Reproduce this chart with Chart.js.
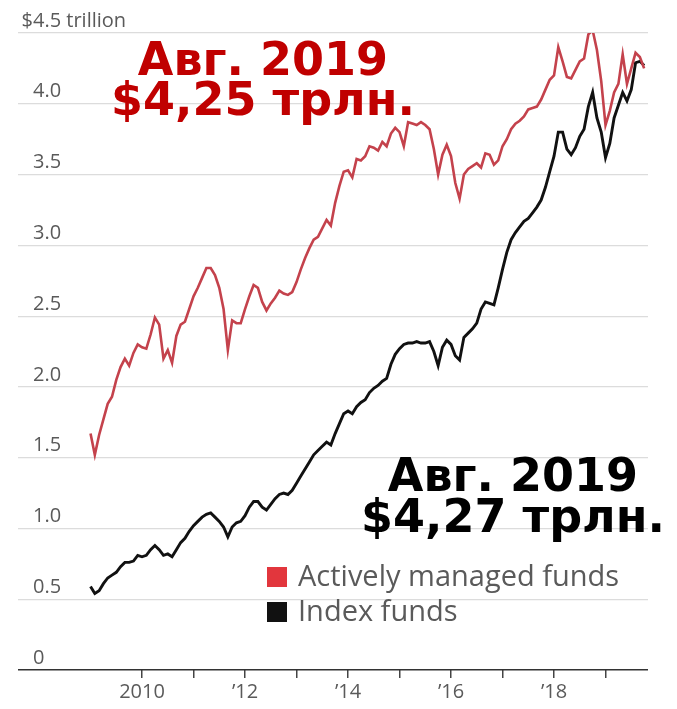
<!DOCTYPE html>
<html>
<head>
<meta charset="utf-8">
<script src="https://cdn.jsdelivr.net/npm/chart.js@4.4.0/dist/chart.umd.min.js"></script>
<style>
html,body{margin:0;padding:0;background:#fff;}
canvas{display:block;}
</style>
</head>
<body>
<canvas id="c" width="677" height="709"></canvas>
<script>
// ---- data (monthly, first point = Jan 2009) ----
const firstMonth = '2009-01';
const activeValues = [
  1.67,1.52,1.66,1.77,1.88,1.93,2.05,2.14,2.20,2.15,2.24,2.30,
  2.28,2.27,2.37,2.49,2.44,2.20,2.26,2.17,2.36,2.44,2.46,2.55,
  2.64,2.70,2.77,2.84,2.84,2.79,2.70,2.55,2.26,2.47,2.45,2.45,
  2.55,2.64,2.72,2.70,2.60,2.54,2.59,2.63,2.68,2.66,2.65,2.67,
  2.74,2.83,2.91,2.98,3.04,3.06,3.12,3.18,3.14,3.30,3.42,3.52,
  3.53,3.48,3.61,3.60,3.63,3.70,3.69,3.67,3.73,3.70,3.79,3.83,
  3.80,3.70,3.87,3.86,3.85,3.87,3.85,3.82,3.68,3.50,3.64,3.71,
  3.63,3.44,3.33,3.50,3.54,3.56,3.58,3.55,3.65,3.64,3.57,3.60,
  3.70,3.75,3.82,3.86,3.88,3.91,3.96,3.97,3.98,4.03,4.10,4.17,
  4.20,4.40,4.30,4.19,4.18,4.24,4.30,4.32,4.49,4.52,4.38,4.16,
  3.85,3.95,4.08,4.14,4.35,4.14,4.25,4.36,4.33,4.25
];
const indexValues = [
  0.59,0.54,0.56,0.61,0.65,0.67,0.69,0.73,0.76,0.76,0.77,0.81,
  0.80,0.81,0.85,0.88,0.85,0.81,0.82,0.80,0.85,0.90,0.93,0.98,
  1.02,1.05,1.08,1.10,1.11,1.08,1.05,1.01,0.94,1.01,1.04,1.05,
  1.09,1.15,1.19,1.19,1.15,1.13,1.17,1.21,1.24,1.25,1.24,1.27,
  1.32,1.37,1.42,1.47,1.52,1.55,1.58,1.61,1.59,1.67,1.74,1.81,
  1.83,1.81,1.86,1.89,1.91,1.96,1.99,2.01,2.04,2.06,2.16,2.23,
  2.27,2.30,2.31,2.31,2.32,2.31,2.31,2.32,2.25,2.15,2.28,2.33,
  2.30,2.22,2.19,2.35,2.38,2.41,2.45,2.55,2.60,2.59,2.58,2.70,
  2.83,2.95,3.04,3.09,3.13,3.17,3.19,3.23,3.27,3.32,3.41,3.52,
  3.63,3.80,3.80,3.68,3.64,3.69,3.77,3.82,3.98,4.08,3.90,3.80,
  3.62,3.72,3.90,3.99,4.08,4.02,4.10,4.29,4.30,4.27
];
const seriesNames = ['Actively managed funds', 'Index funds'];
const xTickMonths = ['2010-01','2011-01','2012-01','2013-01','2014-01','2015-01','2016-01','2017-01','2018-01','2019-01'];
const xTickLabels = ['2010','','\u201912','','\u201914','','\u201916','','\u201918',''];
const yTickValues = [0,0.5,1.0,1.5,2.0,2.5,3.0,3.5,4.0,4.5];
const yTickLabels = ['0','0.5','1.0','1.5','2.0','2.5','3.0','3.5','4.0','4.5 trillion'];
const noteActive = ['\u0410\u0432\u0433. 2019', '$4,25 \u0442\u0440\u043b\u043d.'];
const noteIndex  = ['\u0410\u0432\u0433. 2019', '$4,27 \u0442\u0440\u043b\u043d.'];

// ---- helpers ----
function monthIndex(s){ const [y,m]=s.split('-').map(Number); const [y0,m0]=firstMonth.split('-').map(Number); return (y-y0)*12+(m-m0); }
const toPoints = vals => vals.map((v,i)=>({x:i, y:v}));

const RED_LINE = '#c4424c';
const RED_LEGEND = '#e2363d';
const RED_TEXT = '#c00000';
const GRAY = '#5a5a5a';

const overlay = {
  id:'overlay',
  afterDraw(chart){
    const ctx = chart.ctx, ys = chart.scales.y, ca = chart.chartArea;
    ctx.save();
    // "$" hanging in front of top tick label
    ctx.font = '20px "Open Sans"';
    ctx.fillStyle = GRAY;
    ctx.textAlign = 'right';
    ctx.textBaseline = 'middle';
    ctx.fillText('$', ca.left + 15, ys.getPixelForValue(4.5) - 12);
    // legend
    const lg = [[RED_LEGEND, seriesNames[0], 577], ['#111', seriesNames[1], 612]];
    ctx.textAlign = 'left';
    ctx.font = '29px "Open Sans"';
    lg.forEach(([c, t, y])=>{
      ctx.fillStyle = c; ctx.fillRect(267, y-10, 20, 20);
      ctx.fillStyle = GRAY; ctx.fillText(t, 298, y+1);
    });
    // annotations
    ctx.font = 'bold 46px "DejaVu Sans"';
    ctx.textAlign = 'center';
    ctx.textBaseline = 'alphabetic';
    ctx.fillStyle = RED_TEXT;
    ctx.fillText(noteActive[0], 263, 75);
    ctx.fillText(noteActive[1], 263, 115);
    ctx.fillStyle = '#000';
    ctx.fillText(noteIndex[0], 513, 491);
    ctx.fillText(noteIndex[1], 513, 532);
    ctx.restore();
  }
};

new Chart(document.getElementById('c'), {
  type:'line',
  data:{
    datasets:[
      {label:seriesNames[0], data:toPoints(activeValues), borderColor:RED_LINE, borderWidth:2.6, pointRadius:0, tension:0},
      {label:seriesNames[1], data:toPoints(indexValues), borderColor:'#111', borderWidth:2.9, pointRadius:0, tension:0}
    ]
  },
  options:{
    responsive:false, animation:false, devicePixelRatio:1,
    layout:{padding:{left:18, right:29, top:33, bottom:0}},
    plugins:{legend:{display:false}, tooltip:{enabled:false}},
    scales:{
      x:{
        type:'linear', min:-16.9, max:129.9,
        afterBuildTicks:s=>{ s.ticks = xTickMonths.map(m=>({value:monthIndex(m)})); },
        afterFit:s=>{ s.height = 39; },
        ticks:{autoSkip:false, maxRotation:0, padding:2, color:GRAY,
               font:{family:'Open Sans', size:20},
               callback:(v,i)=>xTickLabels[i]},
        grid:{drawOnChartArea:false, drawTicks:true, tickLength:8, color:'#444', lineWidth:1.5},
        border:{display:false}
      },
      y:{
        min:0, max:4.5,
        afterBuildTicks:s=>{ s.ticks = yTickValues.map(v=>({value:v})); },
        afterFit:s=>{ s.width = 0; },
        ticks:{mirror:true, padding:15, labelOffset:-12, color:GRAY,
               font:{family:'Open Sans', size:20},
               callback:(v,i)=>yTickLabels[i]},
        grid:{drawTicks:false,
              color:c=>c.tick && c.tick.value===0 ? '#333' : '#dcdcdc',
              lineWidth:c=>c.tick && c.tick.value===0 ? 1.6 : 1.2},
        border:{display:false}
      }
    }
  },
  plugins:[overlay]
});
</script>
</body>
</html>
